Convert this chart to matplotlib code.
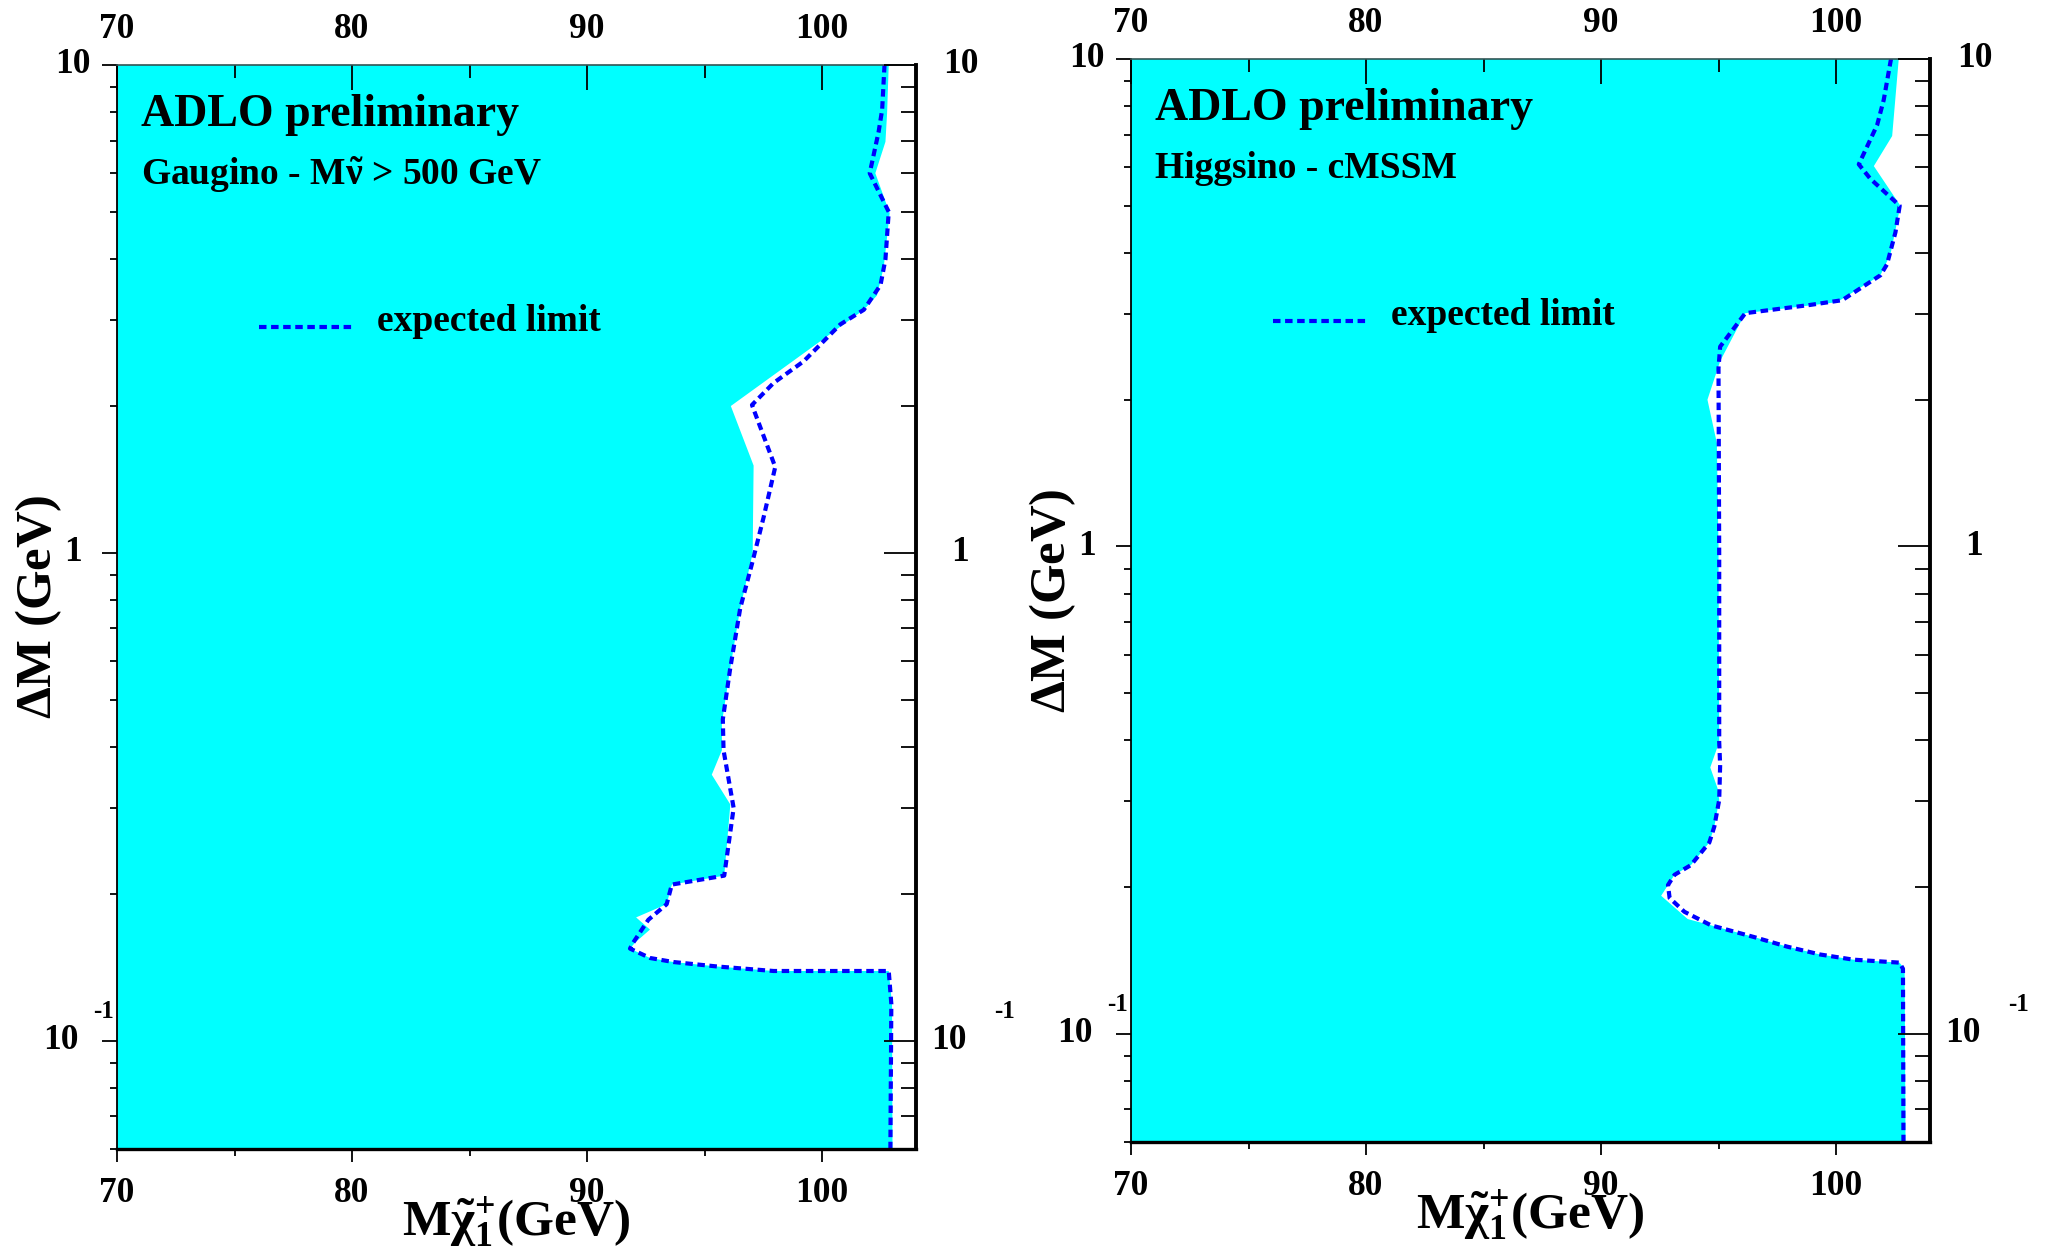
import numpy as np
import matplotlib
matplotlib.use('Agg')
import matplotlib.pyplot as plt
from matplotlib.lines import Line2D
from matplotlib.ticker import FixedLocator, FixedFormatter, NullFormatter

plt.rcParams['font.family'] = ['Liberation Serif', 'DejaVu Serif']
plt.rcParams['font.weight'] = 'bold'
plt.rcParams['axes.labelweight'] = 'bold'
plt.rcParams['mathtext.fontset'] = 'custom'
plt.rcParams['mathtext.rm'] = 'Liberation Serif:bold'
plt.rcParams['mathtext.it'] = 'Liberation Serif:bold'
plt.rcParams['mathtext.bf'] = 'Liberation Serif:bold'
plt.rcParams['mathtext.default'] = 'bf'

# axis ranges
mass_range = (70, 104)
dm_range = (0.06, 10)

# --- Gaugino, M(sneutrino) > 500 GeV ---
gaug_obs_mass = [102.84, 102.77, 102.70, 102.27, 102.88, 102.63, 102.34, 101.78, 96.12, 97.09,
                 97.05, 96.95, 96.52, 96.09, 95.74, 95.74, 95.31, 96.10, 95.84, 93.61, 93.39,
                 92.09, 92.68, 92.05, 91.83, 92.68, 93.68, 95.53, 97.94, 102.84, 102.98, 103.0]
gaug_obs_dm = [10, 7.96, 6.96, 6.0, 4.97, 3.86, 3.37, 3.15, 2.0, 1.51,
               1.0, 0.95, 0.77, 0.578, 0.448, 0.394, 0.351, 0.305, 0.218, 0.209, 0.1905,
               0.179, 0.169, 0.159, 0.1545, 0.1478, 0.145, 0.142, 0.139, 0.139, 0.119, 0.06]
gaug_exp_mass = [102.66, 102.56, 102.41, 102.03, 102.84, 102.70, 102.49, 101.78, 100.78, 99.22,
                 97.94, 97.02, 98.01, 97.51, 97.02, 96.52, 96.09, 95.78, 95.81, 96.24, 95.84,
                 93.61, 93.39, 92.61, 91.97, 91.83, 92.68, 93.68, 95.53, 97.94, 102.84, 102.95,
                 102.91]
gaug_exp_dm = [10, 8.1, 7.3, 6.0, 5.0, 4.0, 3.54, 3.15, 2.94, 2.47,
               2.23, 2.01, 1.50, 1.18, 0.95, 0.77, 0.578, 0.456, 0.394, 0.300, 0.218,
               0.209, 0.1905, 0.177, 0.159, 0.1545, 0.1478, 0.145, 0.142, 0.139, 0.139, 0.119,
               0.06]

# --- Higgsino, cMSSM ---
higg_obs_mass = [102.67, 102.39, 101.61, 102.74, 102.32, 101.89, 100.04, 96.14, 95.07, 94.53,
                 94.93, 95.0, 95.03, 94.65, 94.96, 95.03, 94.82, 94.61, 93.83, 93.13, 92.56,
                 93.69, 94.68, 96.51, 97.92, 99.32, 100.73, 102.70, 102.92, 102.96]
higg_obs_dm = [10, 6.95, 6.03, 5.0, 3.98, 3.6, 3.17, 3.01, 2.40, 2.0,
               1.63, 1.0, 0.397, 0.352, 0.319, 0.302, 0.266, 0.247, 0.222, 0.212, 0.192,
               0.172, 0.167, 0.158, 0.151, 0.1455, 0.142, 0.140, 0.136, 0.06]
higg_exp_mass = [102.34, 102.03, 101.75, 100.97, 101.46, 102.71, 102.53, 102.17, 101.89, 100.26,
                 98.91, 96.14, 95.07, 95.0, 95.03, 95.03, 95.07, 95.03, 94.82, 94.61, 93.83,
                 93.13, 92.85, 92.92, 93.55, 94.68, 96.51, 97.92, 99.32, 100.73, 102.70, 102.85,
                 102.87]
higg_exp_dm = [10, 8.24, 7.32, 6.08, 5.68, 5.0, 4.41, 3.79, 3.6, 3.2,
               3.13, 3.01, 2.57, 2.32, 0.95, 0.397, 0.356, 0.302, 0.266, 0.247, 0.222,
               0.212, 0.202, 0.190, 0.178, 0.167, 0.158, 0.151, 0.1455, 0.142, 0.140, 0.136,
               0.06]

x_major = [70, 80, 90, 100]
x_minor = [75, 85, 95]
y_major = [0.1, 1, 10]
y_minor = [0.06, 0.07, 0.08, 0.09, 0.2, 0.3, 0.4, 0.5, 0.6, 0.7, 0.8, 0.9,
           2, 3, 4, 5, 6, 7, 8, 9]

panels = [
    dict(rect=[117 / 2052, 1 - 1149 / 1251, 799 / 2052, 1084 / 1251],
         obs=(gaug_obs_mass, gaug_obs_dm), exp=(gaug_exp_mass, gaug_exp_dm),
         subtitle=r'Gaugino - M$\tilde{\nu}$ > 500 GeV'),
    dict(rect=[1131 / 2052, 1 - 1142 / 1251, 799 / 2052, 1083 / 1251],
         obs=(higg_obs_mass, higg_obs_dm), exp=(higg_exp_mass, higg_exp_dm),
         subtitle='Higgsino - cMSSM'),
]

cyan = '#00ffff'
blue = '#0000ff'
tick_fs = 25.5
dash = (0, (1.8, 1.1))
dash_lw = 3.0

fig = plt.figure(figsize=(20.52, 12.51), dpi=100)

for p in panels:
    ax = fig.add_axes(p['rect'])
    ax.set_yscale('log')
    ax.set_xlim(*mass_range)
    ax.set_ylim(*dm_range)

    # excluded region
    m, d = p['obs']
    ax.fill(np.r_[mass_range[0], m, mass_range[0]], np.r_[dm_range[1], d, dm_range[0]],
            color=cyan, lw=0, zorder=1)
    # expected limit
    m, d = p['exp']
    ax.plot(m, d, color=blue, lw=dash_lw, linestyle=dash, zorder=2)

    # bottom axis: ticks outward
    ax.xaxis.set_major_locator(FixedLocator(x_major))
    ax.xaxis.set_minor_locator(FixedLocator(x_minor))
    ax.xaxis.set_major_formatter(FixedFormatter([str(v) for v in x_major]))
    ax.tick_params(axis='x', which='major', direction='out', length=9.5, width=1.3,
                   labelsize=tick_fs, pad=11)
    ax.tick_params(axis='x', which='minor', direction='out', length=5, width=1.3)

    # left axis: ticks outward, centred labels
    ax.yaxis.set_major_locator(FixedLocator(y_major))
    ax.yaxis.set_minor_locator(FixedLocator(y_minor))
    ax.yaxis.set_major_formatter(FixedFormatter(['', '1', '10']))
    ax.yaxis.set_minor_formatter(NullFormatter())
    ax.tick_params(axis='y', which='major', direction='out', length=11, width=1.3,
                   labelsize=tick_fs, pad=21)
    ax.tick_params(axis='y', which='minor', direction='out', length=5, width=1.3)
    plt.setp(ax.get_yticklabels(), ha='center', va='center')

    ax.spines['left'].set_linewidth(1.3)
    ax.spines['bottom'].set_linewidth(2.4)
    ax.spines['top'].set_visible(False)
    ax.spines['right'].set_visible(False)

    # top axis: ticks inward
    top = ax.secondary_xaxis('top')
    top.set_zorder(5)
    top.xaxis.set_major_locator(FixedLocator(x_major))
    top.xaxis.set_minor_locator(FixedLocator(x_minor))
    top.xaxis.set_major_formatter(FixedFormatter([str(v) for v in x_major]))
    top.tick_params(axis='x', which='major', direction='in', length=18, width=1.3,
                    labelsize=tick_fs, pad=14)
    top.tick_params(axis='x', which='minor', direction='in', length=9, width=1.3)
    top.spines['top'].set_linewidth(1.2)
    top.spines['top'].set_color('#335555')

    # right axis: ticks inward
    right = ax.secondary_yaxis('right')
    right.set_zorder(5)
    right.yaxis.set_major_locator(FixedLocator(y_major))
    right.yaxis.set_minor_locator(FixedLocator(y_minor))
    right.yaxis.set_major_formatter(FixedFormatter(['', '1', '10']))
    right.yaxis.set_minor_formatter(NullFormatter())
    right.tick_params(axis='y', which='major', direction='in', length=23, width=1.3,
                      labelsize=tick_fs, pad=32)
    right.tick_params(axis='y', which='minor', direction='in', length=11, width=1.3)
    plt.setp(right.get_yticklabels(), ha='center', va='center')
    right.spines['right'].set_linewidth(2.8)

    # 10^-1 labels drawn in ROOT style
    for dx10, dxexp in [(-56, -13), (33, 88)]:
        ax.annotate('10', xy=(0 if dx10 < 0 else 1, 0.1), xycoords=('axes fraction', 'data'),
                    xytext=(dx10, 0), textcoords='offset pixels',
                    ha='center', va='center', fontsize=tick_fs, annotation_clip=False)
        ax.annotate('-1', xy=(0 if dx10 < 0 else 1, 0.1), xycoords=('axes fraction', 'data'),
                    xytext=(dxexp, 29), textcoords='offset pixels',
                    ha='center', va='center', fontsize=18, annotation_clip=False)

    # axis titles
    ax.set_xlabel(r'M$\tilde{\chi}_1^{+}$(GeV)', fontsize=37, fontweight='bold')
    ax.xaxis.set_label_coords(0.5, -0.068)
    ax.xaxis.label.set_va('center')
    ax.set_ylabel(r'$\Delta$M (GeV)', fontsize=36.5, fontweight='bold')
    ax.yaxis.set_label_coords(-0.098, 0.5)
    ax.yaxis.label.set_va('center')

    # texts
    ax.text(0.030, 0.954, 'ADLO preliminary', transform=ax.transAxes, fontsize=33,
            ha='left', va='center', zorder=6)
    ax.text(0.030, 0.899, p['subtitle'], transform=ax.transAxes, fontsize=27,
            ha='left', va='center', zorder=6)
    ax.add_line(Line2D([0.178, 0.296], [0.758, 0.758], transform=ax.transAxes,
                       color=blue, lw=dash_lw, linestyle=dash, zorder=6))
    ax.text(0.326, 0.763, 'expected limit', transform=ax.transAxes, fontsize=27,
            ha='left', va='center', zorder=6)

fig.savefig('out.png', dpi=100)
